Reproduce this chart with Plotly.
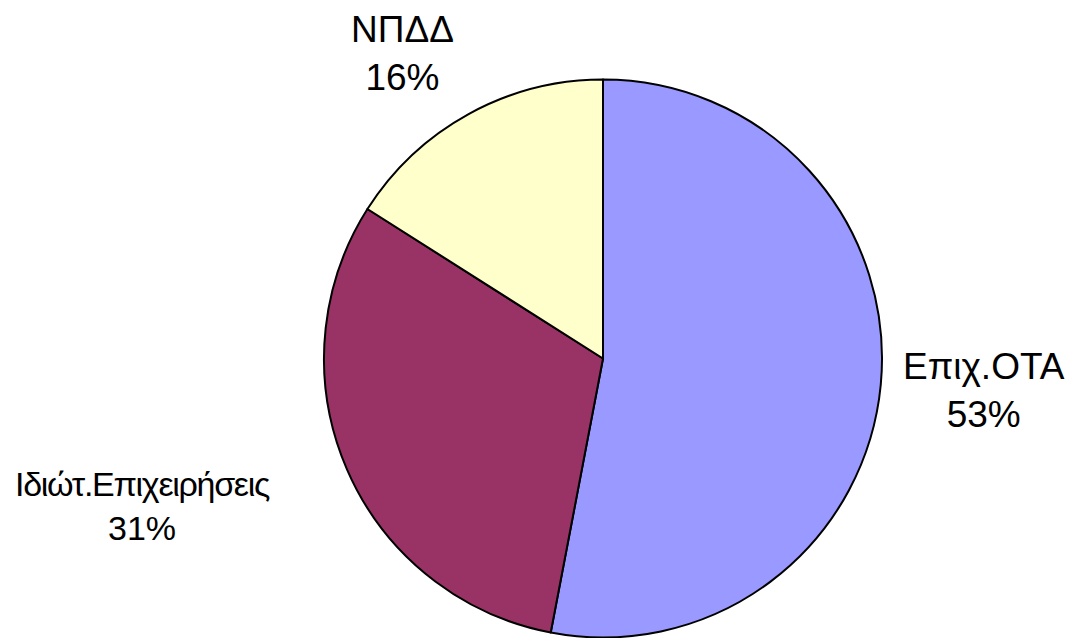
import plotly.graph_objects as go

# Data
categories = ["Επιχ.ΟΤΑ", "Ιδιώτ.Επιχειρήσεις", "ΝΠΔΔ"]
values = [53, 31, 16]
colors = ["#9999FF", "#993366", "#FFFFCC"]

# Label placement / styling (layout only)
label_pos = [(0.9045, 0.3997), (0.1251, 0.2194), (0.3652, 0.9280)]
label_size = [37, 34, 37]
label_tracking = ["0px", "-1.3px", "0px"]

total = sum(values)
fig = go.Figure(go.Pie(
    labels=categories,
    values=values,
    sort=False,
    direction="clockwise",
    rotation=0,
    marker=dict(colors=colors, line=dict(color="black", width=2)),
    textinfo="none",
    hoverinfo="label+percent",
    showlegend=False,
    domain=dict(x=[0.29287, 0.81001], y=[0.01332, 0.88793]),
))

annotations = []
for cat, val, (px, py), fs, tr in zip(categories, values, label_pos, label_size, label_tracking):
    annotations.append(dict(
        x=px, y=py, xref="paper", yref="paper",
        text=f'<span style="letter-spacing:{tr}">{cat}</span><br>{round(100 * val / total)}%',
        showarrow=False, xanchor="center", yanchor="middle",
        font=dict(family="Liberation Sans, Arial, sans-serif", size=fs, color="black"),
        align="center",
    ))

fig.update_layout(
    width=1079, height=638,
    margin=dict(l=0, r=0, t=0, b=0),
    paper_bgcolor="white", plot_bgcolor="white",
    annotations=annotations,
)

fig.write_html("out.html")
